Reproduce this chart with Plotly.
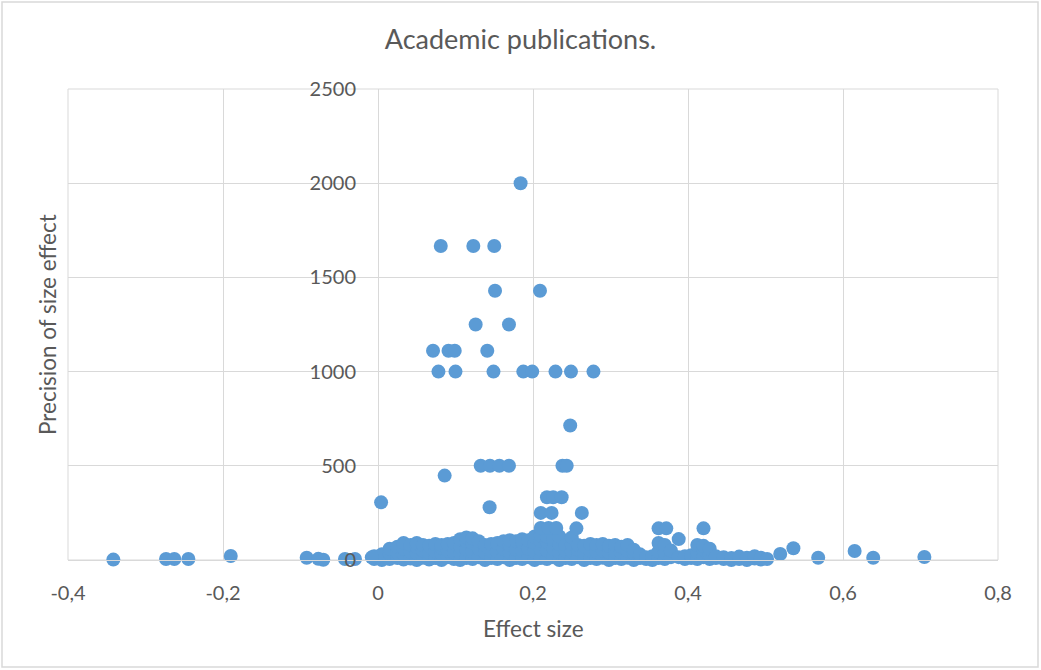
import plotly.graph_objects as go

# ---- sparse points (effect size, precision) ----
sparse_effect = [
    0.184, 0.081, 0.123, 0.150, 0.151, 0.209, 0.126, 0.169,
    0.071, 0.091, 0.099, 0.141,
    0.078, 0.100, 0.149, 0.1875, 0.199, 0.229, 0.249, 0.278,
    0.248, 0.1325, 0.1445, 0.1566, 0.169, 0.238, 0.2435, 0.086,
    0.004, 0.144, 0.218, 0.226, 0.237, 0.21, 0.224, 0.263,
    0.256, 0.21, 0.22, 0.23, 0.362, 0.372, 0.42, 0.388,
    0.519, 0.536, 0.568, 0.615, 0.639, 0.705,
    -0.3415, -0.2735, -0.2628, -0.2447, -0.19, -0.092, -0.077, -0.0706,
    -0.0426, -0.0297, -0.008,
]
sparse_precision = [
    2000, 1667, 1667, 1667, 1429, 1429, 1250, 1250,
    1111, 1111, 1111, 1111,
    1000, 1000, 1000, 1000, 1000, 1000, 1000, 1000,
    714, 500, 500, 500, 500, 500, 500, 448,
    306, 280, 333, 333, 333, 250, 250, 250,
    168, 170, 170, 170, 168, 168, 168, 111,
    32, 62, 12, 48, 12, 16,
    2, 5, 5, 5, 21, 12, 6, 1,
    5, 5, 14,
]

# ---- dense band near zero precision ----
band_effect = [
    -0.005, -0.005,
    0.005, 0.005, 0.005,
    0.015, 0.015, 0.015,
    0.025, 0.025, 0.025,
    0.033, 0.033, 0.033, 0.033,
    0.042, 0.042, 0.042,
    0.05, 0.05, 0.05, 0.05,
    0.058, 0.058, 0.058,
    0.066, 0.066, 0.066,
    0.074, 0.074, 0.074,
    0.082, 0.082, 0.082, 0.082,
    0.09, 0.09, 0.09,
    0.098, 0.098, 0.098,
    0.106, 0.106, 0.106, 0.106,
    0.114, 0.114, 0.114, 0.114,
    0.122, 0.122, 0.122, 0.122,
    0.13, 0.13, 0.13,
    0.138, 0.138, 0.138,
    0.146, 0.146, 0.146,
    0.154, 0.154, 0.154,
    0.162, 0.162, 0.162,
    0.17, 0.17, 0.17, 0.17,
    0.178, 0.178, 0.178,
    0.186, 0.186, 0.186, 0.186,
    0.194, 0.194, 0.194,
    0.202, 0.202, 0.202, 0.202,
    0.21, 0.21, 0.21, 0.21,
    0.218, 0.218, 0.218, 0.218,
    0.226, 0.226, 0.226,
    0.234, 0.234, 0.234, 0.234,
    0.242, 0.242, 0.242,
    0.25, 0.25, 0.25, 0.25,
    0.258, 0.258, 0.258,
    0.266, 0.266, 0.266,
    0.274, 0.274, 0.274,
    0.282, 0.282, 0.282,
    0.29, 0.29, 0.29,
    0.298, 0.298, 0.298,
    0.306, 0.306, 0.306,
    0.314, 0.314, 0.314,
    0.322, 0.322, 0.322,
    0.33, 0.33, 0.33,
    0.338, 0.338,
    0.346, 0.346,
    0.354, 0.354,
    0.362, 0.362, 0.362,
    0.37, 0.37, 0.37,
    0.378, 0.378,
    0.388,
    0.396, 0.396,
    0.404, 0.404,
    0.412, 0.412, 0.412,
    0.42, 0.42, 0.42,
    0.428, 0.428, 0.428,
    0.436, 0.436,
    0.446, 0.446,
    0.456, 0.456,
    0.466, 0.466,
    0.476, 0.476,
    0.486, 0.486,
    0.494, 0.494,
    0.502,
]
band_precision = [
    5, 20,
    0, 15, 30,
    5, 35, 60,
    10, 40, 70,
    2, 30, 60, 90,
    8, 45, 80,
    0, 35, 70, 90,
    12, 50, 80,
    3, 40, 75,
    10, 45, 85,
    0, 30, 65, 80,
    15, 50, 85,
    5, 40, 90,
    0, 35, 70, 110,
    10, 55, 100, 120,
    5, 45, 90, 115,
    15, 60, 100,
    0, 40, 80,
    10, 50, 85,
    5, 45, 90,
    15, 60, 100,
    0, 40, 80, 105,
    10, 55, 100,
    5, 50, 95, 110,
    15, 60, 105,
    0, 45, 90, 125,
    10, 55, 100, 130,
    5, 50, 95, 125,
    15, 60, 110,
    0, 40, 85, 125,
    10, 50, 80,
    5, 45, 85, 120,
    15, 55, 80,
    0, 40, 75,
    10, 50, 85,
    5, 45, 80,
    12, 50, 85,
    0, 40, 75,
    10, 45, 80,
    5, 40, 70,
    12, 50, 80,
    0, 35, 55,
    10, 30,
    5, 15,
    0, 20,
    10, 45, 90,
    5, 40, 80,
    15, 50,
    15,
    5, 20,
    10, 25,
    5, 40, 80,
    15, 55, 75,
    5, 30, 60,
    10, 20,
    5, 15,
    0, 10,
    5, 18,
    0, 12,
    8, 20,
    3, 12,
    5,
]

x_ticks = [-0.4, -0.2, 0, 0.2, 0.4, 0.6, 0.8]
x_tick_labels = ["-0,4", "-0,2", "0", "0,2", "0,4", "0,6", "0,8"]
y_ticks = [0, 500, 1000, 1500, 2000, 2500]
y_tick_labels = ["0", "500", "1000", "1500", "2000", "2500"]

TEXT = "#595959"
GRID = "#D9D9D9"
BLUE = "#5B9BD5"
FONT = "Lato"

fig = go.Figure()
fig.add_trace(go.Scatter(
    x=band_effect + sparse_effect,
    y=band_precision + sparse_precision,
    mode="markers",
    marker=dict(size=14, color=BLUE, line=dict(width=0)),
    cliponaxis=False,
    showlegend=False,
))

W, H = 1041, 670
L, R, T, B = 68, 43, 89, 110
pw, ph = W - L - R, H - T - B

fig.update_layout(
    width=W, height=H,
    margin=dict(l=L, r=R, t=T, b=B),
    paper_bgcolor="white", plot_bgcolor="white",
    font=dict(family=FONT, color=TEXT, size=20),
    title=dict(text="Academic publications.", x=0.5, xref="container",
               y=1 - 40 / H, yref="container", yanchor="middle", xanchor="center",
               font=dict(family=FONT, size=27, color=TEXT)),
    xaxis=dict(range=[-0.4, 0.8], domain=[0, 1], tickvals=x_ticks, ticktext=x_tick_labels,
               showgrid=True, gridcolor=GRID, gridwidth=1, zeroline=False,
               showline=True, linecolor=GRID, linewidth=1,
               ticks="outside", ticklen=15, tickcolor="rgba(0,0,0,0)",
               tickfont=dict(family=FONT, size=20, color=TEXT)),
    yaxis=dict(range=[0, 2500], tickvals=y_ticks, ticktext=y_tick_labels,
               anchor="free", position=1 / 3,
               showgrid=True, gridcolor=GRID, gridwidth=1, zeroline=False,
               showline=False,
               ticks="outside", ticklen=18, tickcolor="rgba(0,0,0,0)",
               tickfont=dict(family=FONT, size=20, color=TEXT)),
    shapes=[
        dict(type="rect", xref="paper", yref="paper", x0=0, x1=1, y0=0, y1=1,
             line=dict(color=GRID, width=1), layer="below"),
        dict(type="rect", xref="paper", yref="paper",
             x0=(2 - L) / pw, x1=(1038 - L) / pw,
             y0=(H - B - 667) / ph, y1=(H - B - 2) / ph,
             line=dict(color=GRID, width=1.5), layer="below"),
    ],
    annotations=[
        dict(text="Precision of size effect", xref="paper", yref="paper",
             x=(47 - L) / pw, y=(H - B - 325) / ph, textangle=-90, showarrow=False,
             xanchor="center", yanchor="middle", font=dict(family=FONT, size=22.5, color=TEXT)),
        dict(text="Effect size", xref="paper", yref="paper",
             x=0.5, y=(H - B - 628) / ph, showarrow=False,
             xanchor="center", yanchor="middle", font=dict(family=FONT, size=22.5, color=TEXT)),
    ],
)

fig.write_html("out.html", config={"displayModeBar": False},
               post_script="document.body.style.margin='0';")
